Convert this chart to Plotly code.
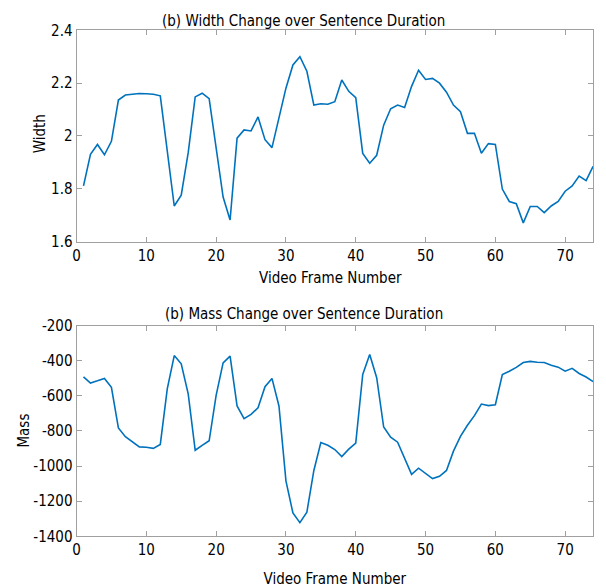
import plotly.graph_objects as go

frames = list(range(1, 75))

width_vals = [
    1.811, 1.931, 1.968, 1.929, 1.980, 2.136, 2.155, 2.158, 2.161, 2.160,
    2.158, 2.152, 1.940, 1.735, 1.776, 1.937, 2.148, 2.162, 2.141, 1.955,
    1.769, 1.682, 1.992, 2.023, 2.019, 2.072, 1.986, 1.956, 2.070, 2.181,
    2.269, 2.300, 2.245, 2.117, 2.122, 2.120, 2.130, 2.212, 2.169, 2.145,
    1.934, 1.897, 1.927, 2.041, 2.103, 2.117, 2.108, 2.188, 2.249, 2.214,
    2.218, 2.200, 2.166, 2.117, 2.092, 2.010, 2.010, 1.935, 1.971, 1.968,
    1.799, 1.752, 1.744, 1.671, 1.733, 1.733, 1.710, 1.735, 1.752, 1.791,
    1.811, 1.848, 1.831, 1.885,
]

mass_vals = [
    -492, -528, -515, -501, -552, -783, -833, -864, -891, -893,
    -899, -877, -561, -371, -418, -589, -910, -882, -856, -598,
    -413, -374, -658, -730, -706, -668, -548, -501, -658, -1084,
    -1267, -1322, -1262, -1025, -866, -882, -906, -946, -904, -869,
    -479, -365, -497, -778, -836, -864, -955, -1047, -1012, -1043,
    -1071, -1058, -1025, -915, -831, -768, -713, -647, -656, -651,
    -479, -460, -438, -411, -404, -409, -411, -426, -437, -460,
    -444, -473, -493, -519,
]

x_ticks = [0, 10, 20, 30, 40, 50, 60, 70]
width_ticks = [1.6, 1.8, 2.0, 2.2, 2.4]
width_ticktext = ["1.6", "1.8", "2", "2.2", "2.4"]
mass_ticks = [-1400, -1200, -1000, -800, -600, -400, -200]
mass_ticktext = ["-1400", "-1200", "-1000", "-800", "-600", "-400", "-200"]

W, H = 606, 588
FONT = "DejaVu Sans Condensed"
LINE_COLOR = "#0072BD"
AX_COLOR = "#a0a0a0"

def px(x):
    return x / W

def py(y):
    return 1 - y / H

fig = go.Figure()
fig.add_trace(go.Scatter(x=frames, y=width_vals, mode="lines",
                         line=dict(color=LINE_COLOR, width=1.6),
                         xaxis="x", yaxis="y", showlegend=False))
fig.add_trace(go.Scatter(x=frames, y=mass_vals, mode="lines",
                         line=dict(color=LINE_COLOR, width=1.6),
                         xaxis="x2", yaxis="y2", showlegend=False))

axis_common = dict(showline=True, mirror="ticks", linecolor=AX_COLOR, linewidth=1,
                   ticks="inside", ticklen=5, tickcolor=AX_COLOR, tickwidth=1,
                   showgrid=False, zeroline=False,
                   tickfont=dict(family=FONT, size=15, color="#000000"))

fig.update_layout(
    width=W, height=H,
    margin=dict(l=0, r=0, t=0, b=0),
    paper_bgcolor="white", plot_bgcolor="white",
    font=dict(family=FONT, size=15, color="#000000"),
    xaxis=dict(domain=[px(73), px(593)], range=[0, 74], tickvals=x_ticks,
               anchor="y", **axis_common),
    yaxis=dict(domain=[py(240), py(22)], range=[1.6, 2.4], tickvals=width_ticks,
               ticktext=width_ticktext, anchor="x", **axis_common),
    xaxis2=dict(domain=[px(73), px(593)], range=[0, 74], tickvals=x_ticks,
                anchor="y2",
                title=dict(text="Video Frame Number",
                           font=dict(family=FONT, size=15, color="#000000")),
                **axis_common),
    yaxis2=dict(domain=[py(544), py(326.5)], range=[-1400, -200], tickvals=mass_ticks,
                ticktext=mass_ticktext, anchor="x2", **axis_common),
)

ann_font = dict(family=FONT, size=15, color="#000000")
annotations = [
    dict(text="(b) Width Change over Sentence Duration", x=px(301), y=py(12)),
    dict(text="Video Frame Number", x=px(329), y=py(277)),
    dict(text="(b) Mass Change over Sentence Duration", x=px(302), y=py(315)),
    dict(text="Width", x=px(36.5), y=py(129), textangle=-90),
    dict(text="Mass", x=px(20), y=py(435), textangle=-90),
]
for a in annotations:
    fig.add_annotation(xref="paper", yref="paper", showarrow=False,
                       xanchor="center", yanchor="middle", font=ann_font, **a)

fig.write_html(
    "out.html",
    config={"displayModeBar": False},
    post_script="document.body.style.margin='0';document.body.style.padding='0';"
                "document.body.style.overflow='hidden';",
)
